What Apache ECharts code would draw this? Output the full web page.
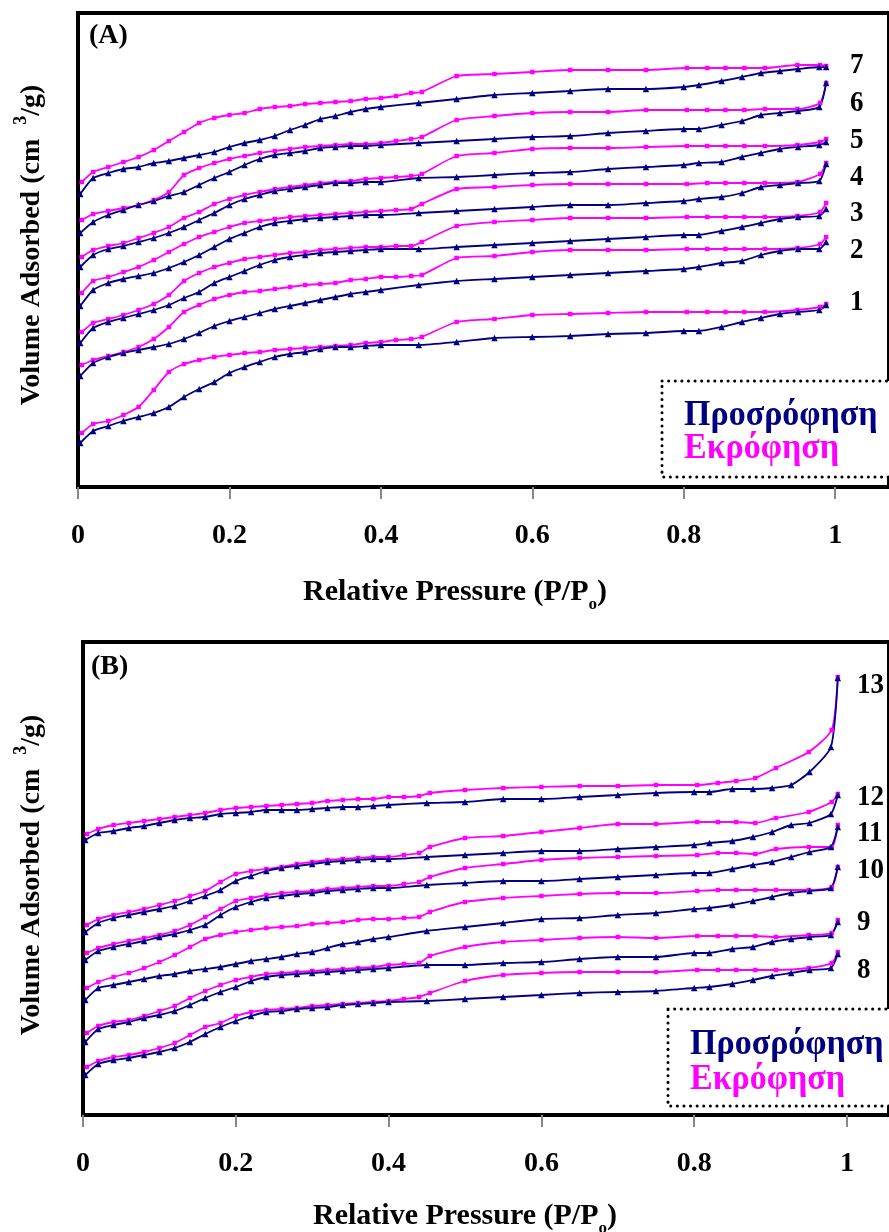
<!DOCTYPE html>
<html>
<head>
<meta charset="utf-8">
<script src="https://cdn.jsdelivr.net/npm/echarts@6/dist/echarts.min.js"></script>
<style>
  html, body { margin: 0; padding: 0; background: #fff; }
  #chart { width: 889px; height: 1232px; }
</style>
</head>
<body>
<div id="chart"></div>
<script>
// relative pressure points (P/Po) shared by every isotherm
const pAds = [0.003, 0.02, 0.04, 0.06, 0.08, 0.10, 0.12, 0.14, 0.16, 0.18, 0.20, 0.22, 0.24, 0.26, 0.28, 0.30, 0.32, 0.34, 0.36, 0.38, 0.40,
  0.45, 0.50, 0.55, 0.60, 0.65, 0.70, 0.75, 0.80, 0.82, 0.85, 0.877, 0.902, 0.927, 0.951, 0.979, 0.988];
const pDes = [0.988, 0.98, 0.95, 0.907, 0.88, 0.855, 0.831, 0.804, 0.75, 0.70, 0.65, 0.60, 0.55, 0.50, 0.454,
  0.44, 0.42, 0.40, 0.38, 0.36, 0.34, 0.32, 0.30, 0.28, 0.26, 0.24, 0.22, 0.20, 0.18, 0.16, 0.14, 0.12, 0.10, 0.08, 0.06, 0.04, 0.02, 0.005];

const xTicks = [0, 0.2, 0.4, 0.6, 0.8, 1];

// volume adsorbed (offset for clarity, arbitrary units) - panel A
const ads1 = [44, 56, 61, 66, 70, 74, 80, 90, 98, 105, 114, 120, 125, 130, 133, 135, 138, 140, 140, 141, 142, 142, 145, 149, 150, 151, 153, 154, 156, 156, 160, 165, 169, 173, 175, 177, 182];
const des1 = [183, 180, 177, 175, 175, 175, 175, 175, 175, 174, 173, 172, 168, 165, 150, 148, 147, 145, 144, 142, 141, 140, 139, 138, 137, 135, 134, 132, 130, 127, 123, 115, 97, 80, 72, 66, 63, 54];
const ads2 = [111, 124, 130, 134, 137, 140, 143, 148, 154, 161, 166, 170, 174, 178, 181, 184, 187, 190, 193, 195, 197, 202, 206, 208, 210, 212, 214, 216, 218, 220, 224, 226, 232, 236, 238, 238, 245];
const des2 = [250, 243, 239, 238, 238, 238, 238, 238, 237, 237, 237, 235, 231, 229, 212, 211, 210, 210, 208, 207, 204, 203, 202, 200, 198, 196, 195, 192, 188, 182, 175, 160, 148, 140, 135, 131, 127, 122];
const ads3 = [144, 159, 165, 169, 173, 177, 182, 189, 195, 204, 210, 216, 222, 227, 230, 232, 234, 235, 236, 237, 238, 238, 240, 242, 244, 246, 248, 250, 252, 252, 256, 260, 264, 268, 270, 271, 278];
const des3 = [284, 275, 271, 270, 270, 270, 270, 270, 269, 269, 269, 267, 265, 261, 245, 241, 241, 240, 240, 239, 238, 237, 235, 234, 232, 230, 228, 224, 220, 214, 206, 192, 183, 177, 172, 168, 164, 155];
const ads4 = [181, 197, 204, 208, 211, 214, 219, 225, 232, 240, 248, 254, 260, 264, 266, 268, 269, 270, 271, 272, 272, 274, 276, 278, 280, 282, 282, 284, 286, 288, 290, 294, 300, 302, 304, 306, 323];
const des4 = [324, 313, 305, 304, 304, 304, 304, 303, 303, 303, 303, 302, 300, 298, 283, 278, 277, 276, 275, 274, 273, 272, 271, 270, 268, 266, 264, 260, 255, 250, 243, 235, 227, 220, 215, 210, 206, 194];
const ads5 = [220, 232, 238, 241, 245, 249, 254, 260, 267, 274, 282, 288, 292, 296, 298, 300, 302, 304, 304, 305, 305, 309, 310, 312, 314, 315, 318, 320, 322, 324, 325, 330, 334, 338, 340, 342, 345];
const des5 = [348, 345, 342, 341, 341, 341, 341, 341, 340, 339, 339, 338, 334, 331, 313, 311, 310, 309, 308, 306, 305, 304, 302, 300, 298, 295, 292, 288, 283, 275, 269, 260, 254, 249, 244, 241, 237, 230];
const ads6 = [254, 265, 272, 277, 282, 286, 291, 295, 302, 309, 315, 322, 328, 332, 334, 336, 339, 340, 341, 341, 342, 344, 346, 348, 350, 351, 354, 356, 358, 358, 362, 366, 372, 374, 376, 380, 404];
const des6 = [404, 384, 378, 378, 377, 377, 377, 377, 377, 375, 375, 374, 371, 367, 350, 348, 346, 344, 343, 343, 342, 341, 340, 338, 336, 334, 331, 328, 324, 319, 312, 295, 287, 282, 279, 276, 273, 267];
const ads7 = [293, 309, 314, 318, 320, 324, 326, 329, 332, 335, 340, 344, 347, 351, 357, 362, 368, 371, 375, 378, 380, 384, 388, 392, 394, 396, 398, 398, 400, 402, 406, 410, 414, 416, 418, 420, 420];
const des7 = [421, 422, 422, 419, 419, 419, 419, 419, 417, 417, 417, 415, 413, 411, 395, 394, 391, 389, 388, 386, 385, 384, 383, 381, 380, 378, 374, 372, 369, 364, 355, 346, 337, 330, 325, 320, 315, 305];

// panel B
const ads8 = [40, 51, 55, 57, 60, 63, 67, 73, 81, 88, 94, 99, 103, 104, 106, 107, 108, 110, 111, 112, 113, 114, 116, 118, 120, 122, 123, 124, 127, 128, 131, 135, 139, 142, 145, 147, 161];
const des8 = [163, 152, 147, 145, 145, 145, 145, 145, 143, 143, 143, 142, 140, 134, 122, 118, 116, 114, 113, 112, 111, 110, 109, 107, 106, 105, 103, 99, 92, 88, 80, 72, 67, 63, 60, 58, 54, 48];
const ads9 = [73, 86, 90, 93, 97, 100, 104, 110, 117, 123, 128, 134, 138, 140, 141, 142, 143, 144, 145, 146, 147, 150, 150, 152, 153, 156, 158, 158, 162, 162, 166, 168, 173, 176, 178, 180, 193];
const des9 = [195, 182, 180, 178, 179, 179, 179, 179, 177, 178, 177, 175, 173, 168, 159, 152, 151, 150, 148, 147, 146, 145, 144, 143, 142, 141, 138, 135, 130, 124, 117, 109, 104, 99, 95, 93, 89, 82];
const ads10 = [115, 127, 130, 133, 136, 139, 141, 144, 146, 148, 151, 154, 156, 158, 161, 163, 167, 171, 173, 176, 178, 184, 188, 192, 196, 197, 200, 202, 206, 207, 210, 214, 218, 222, 224, 227, 248];
const des10 = [248, 228, 225, 225, 225, 225, 225, 224, 222, 222, 221, 219, 217, 213, 203, 198, 197, 196, 196, 195, 193, 192, 191, 189, 188, 187, 185, 183, 180, 176, 168, 160, 153, 147, 142, 138, 133, 127];
const ads11 = [155, 164, 168, 171, 174, 178, 181, 185, 190, 200, 208, 213, 217, 219, 221, 222, 224, 225, 226, 227, 227, 230, 232, 234, 234, 236, 238, 240, 242, 242, 246, 250, 253, 258, 263, 268, 288];
const des11 = [290, 268, 268, 266, 261, 262, 262, 260, 259, 258, 257, 255, 251, 247, 238, 233, 231, 229, 229, 228, 227, 226, 224, 223, 222, 220, 217, 214, 206, 198, 190, 184, 180, 177, 174, 171, 167, 162];
const ads12 = [183, 192, 197, 200, 203, 206, 209, 214, 219, 225, 234, 239, 244, 247, 249, 251, 253, 254, 255, 256, 256, 258, 260, 262, 264, 264, 266, 268, 270, 272, 274, 278, 283, 290, 292, 301, 320];
const des12 = [321, 313, 303, 297, 292, 293, 293, 293, 291, 291, 287, 283, 279, 277, 268, 262, 260, 258, 258, 257, 256, 255, 253, 251, 248, 246, 244, 241, 233, 224, 219, 214, 210, 206, 203, 200, 196, 190];
const ads13 = [275, 282, 284, 287, 289, 292, 295, 297, 298, 301, 302, 303, 305, 305, 305, 306, 307, 308, 308, 309, 310, 312, 313, 316, 316, 318, 320, 322, 323, 323, 326, 326, 327, 330, 343, 368, 437];
const des13 = [438, 385, 363, 347, 337, 334, 332, 330, 330, 329, 329, 328, 327, 325, 322, 319, 318, 318, 316, 316, 315, 314, 312, 311, 310, 309, 308, 307, 305, 302, 300, 298, 296, 294, 292, 290, 286, 281];

const namesA = ['1', '2', '3', '4', '5', '6', '7'];
const namesB = ['8', '9', '10', '11', '12', '13'];
const adsA = [ads1, ads2, ads3, ads4, ads5, ads6, ads7];
const desA = [des1, des2, des3, des4, des5, des6, des7];
const adsB = [ads8, ads9, ads10, ads11, ads12, ads13];
const desB = [des8, des9, des10, des11, des12, des13];

const NAVY = '#000080';
const MAGENTA = '#ff00ff';
const SERIF = "'Liberation Serif', 'Times New Roman', serif";

const pairs = (xs, ys) => xs.map((x, i) => [x, ys[i]]);

function isotherms(ads, des, names, idx) {
  const out = [];
  names.forEach((n, i) => {
    out.push({
      name: 'Εκρόφηση ' + n, type: 'line', xAxisIndex: idx, yAxisIndex: idx,
      data: pairs(pDes, des[i]), smooth: 0.2,
      symbol: 'rect', symbolSize: 4.5,
      lineStyle: { color: MAGENTA, width: 1.8 }, itemStyle: { color: MAGENTA }
    });
    out.push({
      name: 'Προσρόφηση ' + n, type: 'line', xAxisIndex: idx, yAxisIndex: idx,
      data: pairs(pAds, ads[i]), smooth: 0.2,
      symbol: 'triangle', symbolSize: 6.5,
      lineStyle: { color: NAVY, width: 1.8 }, itemStyle: { color: NAVY }
    });
  });
  return out;
}

function xAxis(idx, max) {
  return {
    gridIndex: idx, type: 'value', min: 0, max: max,
    axisLine: { show: false },
    axisTick: { show: true, inside: false, length: 12, customValues: xTicks, lineStyle: { color: '#888', width: 2 } },
    axisLabel: { customValues: xTicks, margin: 35, color: '#000', fontFamily: SERIF, fontWeight: 'bold', fontSize: 28 },
    splitLine: { show: false }
  };
}

function yAxis(idx, max) {
  return {
    gridIndex: idx, type: 'value', min: 0, max: max,
    axisLine: { show: false }, axisTick: { show: false },
    axisLabel: { show: false }, splitLine: { show: false }
  };
}

function txt(text, x, y, size, color, extra) {
  return Object.assign({
    type: 'text', x: x, y: y, z: 100,
    style: { text: text, font: 'bold ' + size + 'px ' + SERIF, fill: color || '#000', align: 'left', verticalAlign: 'middle' }
  }, extra || {});
}

function dotBox(x, y, w, h) {
  return {
    type: 'rect', z: 90, shape: { x: x, y: y, width: w, height: h },
    style: { fill: '#fff', stroke: '#000', lineWidth: 3, lineDash: [0.1, 6.5], lineCap: 'round' }
  };
}

function xTitle(cx, cy) {
  return {
    type: 'text', x: cx, y: cy, z: 100,
    style: {
      text: 'Relative Pressure (P/P{sub|o})', align: 'center', verticalAlign: 'middle',
      font: 'bold 30px ' + SERIF, fill: '#000', lineHeight: 42,
      rich: { sub: { font: 'bold 17px ' + SERIF, verticalAlign: 'bottom', lineHeight: 42 } }
    }
  };
}

function yTitle(cx, cy) {
  return {
    type: 'text', x: cx, y: cy, z: 100, rotation: Math.PI / 2,
    style: {
      text: 'Volume Adsorbed (cm  {sup|3}/g)', align: 'center', verticalAlign: 'middle',
      font: 'bold 28px ' + SERIF, fill: '#000', lineHeight: 40,
      rich: { sup: { font: 'bold 18px ' + SERIF, verticalAlign: 'top', lineHeight: 40 } }
    }
  };
}

const labelYA = [302, 250, 213, 177, 140, 103, 65];
const labelYB = [970, 922, 870, 833, 797, 685];

const graphic = [
  txt('(A)', 89, 36, 28),
  txt('(B)', 91, 667, 28),
  dotBox(662, 381, 240, 96),
  txt('Προσρόφηση', 684, 416, 34, NAVY, { scaleY: 1.08 }),
  txt('Εκρόφηση', 684, 449, 34, MAGENTA, { scaleY: 1.08 }),
  dotBox(668, 1009, 240, 97),
  txt('Προσρόφηση', 690, 1045, 34, NAVY, { scaleY: 1.08 }),
  txt('Εκρόφηση', 690, 1080, 34, MAGENTA, { scaleY: 1.08 }),
  xTitle(455, 592),
  xTitle(465, 1216),
  yTitle(32, 245),
  yTitle(32, 875)
];
namesA.forEach((n, i) => graphic.push(txt(n, 850, labelYA[i], 27, '#000', { scaleY: 1.1 })));
namesB.forEach((n, i) => graphic.push(txt(n, 857, labelYB[i], 27, '#000', { scaleY: 1.1 })));

const chart = echarts.init(document.getElementById('chart'));
chart.setOption({
  animation: false,
  backgroundColor: '#fff',
  grid: [
    { left: 78, top: 13, width: 813, height: 474, show: true, borderColor: '#000', borderWidth: 4, backgroundColor: 'transparent' },
    { left: 83, top: 642, width: 808, height: 473, show: true, borderColor: '#000', borderWidth: 4, backgroundColor: 'transparent' }
  ],
  xAxis: [xAxis(0, 1.071), xAxis(1, 1.055)],
  yAxis: [yAxis(0, 474), yAxis(1, 473)],
  series: isotherms(adsA, desA, namesA, 0).concat(isotherms(adsB, desB, namesB, 1)),
  graphic: graphic
});
</script>
</body>
</html>
